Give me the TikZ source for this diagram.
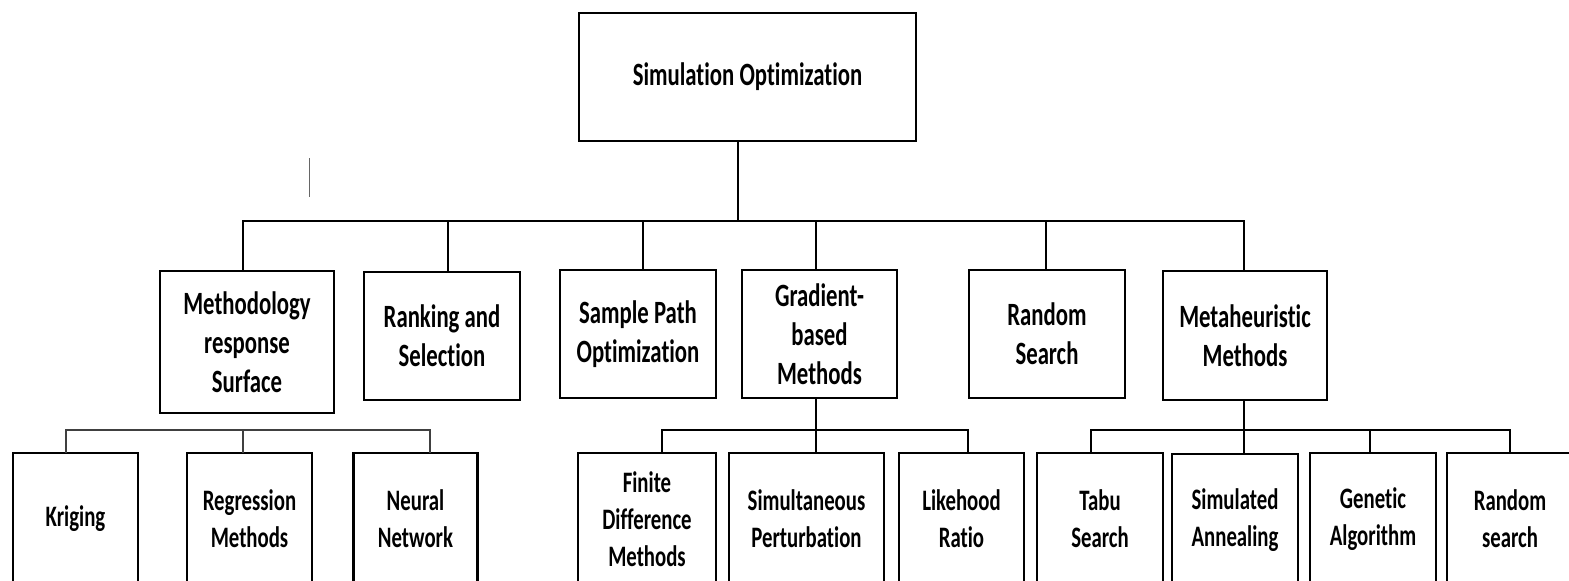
\documentclass[tikz,border=0pt]{standalone}
\usepackage{fontspec}
\setmainfont{Carlito}[FakeStretch=0.7, Ligatures=NoCommon]
\begin{document}
\begin{tikzpicture}[x=1pt,y=-1pt,
  box/.style={draw=black, line width=2.6pt, inner sep=0pt, outer sep=0pt,
    align=center, text=black},
  top/.style={box, minimum width=337pt, minimum height=128pt,
    font=\bfseries\fontsize{32.5}{39}\selectfont},
  mid/.style={box, minimum height=128pt,
    font=\bfseries\fontsize{32.5}{39}\selectfont},
  leaf/.style={box, minimum height=132pt,
    font=\bfseries\fontsize{29.7}{37}\selectfont},
  conn/.style={draw=black, line width=2pt},
  light/.style={draw=black!75, line width=1.6pt}]
\useasboundingbox (0,0) rectangle (1569,581);

% root
\node[top] (root) at (747.5,77) {Simulation Optimization};

% second level
\node[mid, minimum width=174pt, minimum height=142pt] (mrs) at (247,342)
  {Methodology\\response\\Surface};
\node[mid, minimum width=156pt] (rank) at (442,336) {Ranking and\\Selection};
\node[mid, minimum width=156pt] (spo) at (638,334) {Sample Path\\Optimization};
\node[mid, minimum width=155pt] (grad) at (819.5,334) {Gradient-\\based\\Methods};
\node[mid, minimum width=156pt] (rs) at (1047,334) {Random\\Search};
\node[mid, minimum width=164pt, minimum height=129pt] (meta) at (1245,335.5)
  {Metaheuristic\\Methods};

% third level
\node[leaf, minimum width=125pt] (krig) at (75.5,519) {Kriging};
\node[leaf, minimum width=125pt] (reg) at (249.5,519) {Regression\\Methods};
\node[leaf, minimum width=124pt] (neur) at (415.5,519) {Neural\\Network};
\node[leaf, minimum width=138pt] (fdm) at (647,519) {Finite\\Difference\\Methods};
\node[leaf, minimum width=155pt] (sp) at (806.5,519) {Simultaneous\\Perturbation};
\node[leaf, minimum width=125pt] (lr) at (961.5,519) {Likehood\\Ratio};
\node[leaf, minimum width=126pt] (tabu) at (1100,519) {Tabu\\Search};
\node[leaf, minimum width=126pt] (sa) at (1235,520) {Simulated\\Annealing};
\node[leaf, minimum width=126pt] (ga) at (1373,519) {Genetic\\Algorithm};
\node[leaf, minimum width=126pt] (rsl) at (1510,519) {Random\\search};

% junction points of the buses
\coordinate (hub) at (738,221);
\coordinate (hmrs) at (243,430);
\coordinate (hgrad) at (816,430);
\coordinate (hmeta) at (1244,430);

% root to second level
\draw[conn] ([xshift=-9.5]root.south) -- (hub);
\draw[conn] (hub) -| ([xshift=-4]mrs.north);
\draw[conn] (hub) -| ([xshift=5.5]rank.north);
\draw[conn] (hub) -| ([xshift=5]spo.north);
\draw[conn] (hub) -| ([xshift=-3.5]grad.north);
\draw[conn] (hub) -| ([xshift=-1]rs.north);
\draw[conn] (hub) -| ([xshift=-1]meta.north);

% response surface family
\draw[light] (hmrs) -| ([xshift=-9.5]krig.north);
\draw[light] (hmrs) -- ([xshift=-6.5]reg.north);
\draw[light] (hmrs) -| ([xshift=14.5]neur.north);

% gradient family
\draw[conn] ([xshift=-3.5]grad.south) -- (hgrad);
\draw[conn] (hgrad) -| ([xshift=15]fdm.north);
\draw[conn] (hgrad) -- ([xshift=9.5]sp.north);
\draw[conn] (hgrad) -| ([xshift=6.5]lr.north);

% metaheuristic family
\draw[conn] ([xshift=-1]meta.south) -- (hmeta);
\draw[conn] (hmeta) -| ([xshift=-9]tabu.north);
\draw[conn] (hmeta) -- ([xshift=9]sa.north);
\draw[conn] (hmeta) -| ([xshift=-3]ga.north);
\draw[conn] (hmeta) -| (rsl.north);

% short vertical tick
\coordinate (tickA) at (309.5,158);
\coordinate (tickB) at (309.5,197);
\draw[light, draw=black!60] (tickA) -- (tickB);
\end{tikzpicture}
\end{document}
